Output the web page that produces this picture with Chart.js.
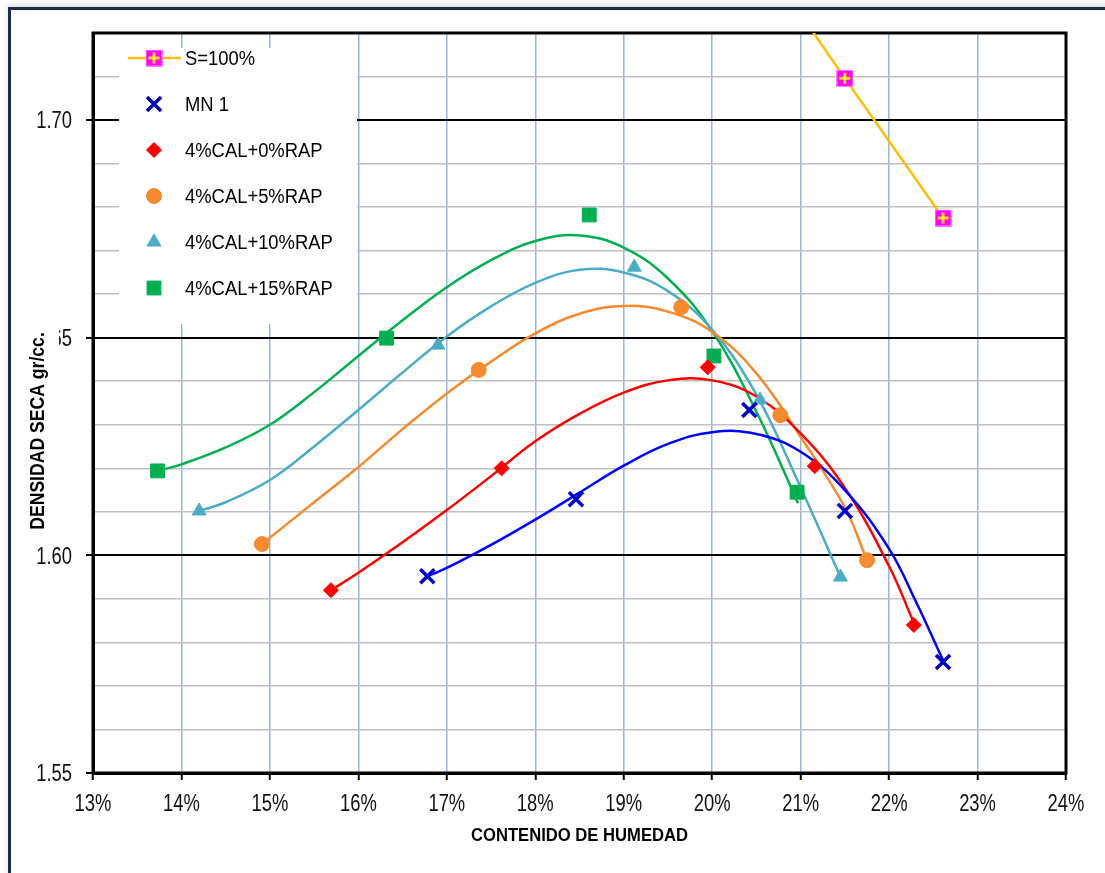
<!DOCTYPE html>
<html>
<head>
<meta charset="utf-8">
<title>Densidad seca vs contenido de humedad</title>
<script src="https://cdn.jsdelivr.net/npm/chart.js@4.4.0/dist/chart.umd.min.js"></script>
<style>
  html, body { margin: 0; padding: 0; background: #fff; overflow: hidden; }
  #wrap { position: relative; width: 1105px; height: 873px; }
  #frame {
    position: absolute; left: 8px; top: 7px; width: 1200px; height: 1000px;
    border: 3px solid #1c2d4c; box-shadow: 0 -3px 6px rgba(0, 0, 0, 0.12);
  }
  #chart { position: absolute; left: 0; top: 0; }
</style>
</head>
<body>
<div id="wrap">
  <div id="frame"></div>
  <canvas id="chart" width="1105" height="873"></canvas>
</div>
<script>
// y labels only on these values, the rest are minor grid lines
const yLabelTicks = [1.55, 1.60, 1.65, 1.70];

// S=100% saturation line (first point lies above the visible range)
const satW = [20.40, 21.50, 22.61];
const satD = [1.742, 1.7096, 1.6775];

// measured points, humedad (%) / densidad (gr/cc)
const mn1W = [16.78, 18.46, 20.42, 21.50, 22.61];
const mn1D = [1.5952, 1.6129, 1.6334, 1.6102, 1.5755];
const cal0W = [15.69, 17.62, 19.95, 21.16, 22.28];
const cal0D = [1.5920, 1.6200, 1.6432, 1.6205, 1.5840];
const cal5W = [14.91, 17.36, 19.65, 20.77, 21.75];
const cal5D = [1.6026, 1.6426, 1.6570, 1.6322, 1.5989];
const cal10W = [14.20, 16.90, 19.12, 20.54, 21.45];
const cal10D = [1.6102, 1.6483, 1.6662, 1.6357, 1.5950];
const cal15W = [13.73, 16.32, 18.61, 20.02, 20.96];
const cal15D = [1.6194, 1.6499, 1.6782, 1.6458, 1.6145];

// trend curves, every half percent
const mn1CurveW = [16.78, 17.0, 17.5, 18.0, 18.5, 19.0, 19.5, 20.0, 20.5, 21.0, 21.5, 22.0, 22.3, 22.61];
const mn1CurveD = [1.5952, 1.5971, 1.6024, 1.6082, 1.6144, 1.6206, 1.6256, 1.6283, 1.6279, 1.6238, 1.6150, 1.6015, 1.5895, 1.5759];
const cal0CurveW = [15.69, 16.0, 16.5, 17.0, 17.5, 18.0, 18.5, 19.0, 19.5, 20.0, 20.5, 21.0, 21.5, 22.0, 22.28];
const cal0CurveD = [1.5920, 1.5960, 1.6030, 1.6104, 1.6182, 1.6262, 1.6325, 1.6374, 1.6402, 1.6402, 1.6365, 1.6280, 1.6155, 1.5975, 1.5845];
const cal5CurveW = [14.91, 15.5, 16.0, 16.5, 17.0, 17.5, 18.0, 18.5, 19.0, 19.5, 20.0, 20.5, 21.0, 21.5, 21.75];
const cal5CurveD = [1.6026, 1.6122, 1.6203, 1.6290, 1.6372, 1.6445, 1.6510, 1.6555, 1.6573, 1.6560, 1.6513, 1.6418, 1.6272, 1.6110, 1.5989];
const cal10CurveW = [14.2, 14.5, 15.0, 15.5, 16.0, 16.5, 17.0, 17.5, 18.0, 18.5, 19.0, 19.5, 20.0, 20.5, 21.0, 21.45];
const cal10CurveD = [1.6102, 1.6122, 1.6173, 1.6250, 1.6334, 1.6420, 1.6503, 1.6572, 1.6626, 1.6656, 1.6650, 1.6607, 1.6518, 1.6369, 1.6156, 1.5950];
const cal15CurveW = [13.73, 14.0, 14.5, 15.0, 15.5, 16.0, 16.5, 17.0, 17.5, 18.0, 18.5, 19.0, 19.5, 20.0, 20.5, 20.97];
const cal15CurveD = [1.6194, 1.6209, 1.6248, 1.6300, 1.6375, 1.6458, 1.6540, 1.6616, 1.6678, 1.6722, 1.6735, 1.6707, 1.6636, 1.6515, 1.6330, 1.6120];

const BLUE = '#0000ff', RED = '#ff0000', ORANGE = '#f58a2f', TEAL = '#4bacc6', GREEN = '#00b050';
const SANS = "'Liberation Sans', Arial, sans-serif";

const pts = (xs, ys) => xs.map((x, i) => ({ x, y: ys[i] }));
const isMajor = v => yLabelTicks.some(t => Math.abs(t - v) < 1e-6);

// the original uses a narrow face, so squeeze the text horizontally
function narrowText(ctx, text, px, py, align, sx) {
  ctx.save();
  ctx.translate(px, py);
  ctx.scale(sx, 1);
  ctx.textAlign = align;
  ctx.fillText(text, 0, 0);
  ctx.restore();
}

// magenta square with yellow plus, as in the Excel marker
function satMarker() {
  const c = document.createElement('canvas');
  c.width = 17; c.height = 17;
  const g = c.getContext('2d');
  g.fillStyle = '#ff00ff';
  g.fillRect(0, 0, 17, 17);
  g.strokeStyle = '#ff80ff';
  g.strokeRect(0.5, 0.5, 16, 16);
  g.strokeStyle = '#ffff00';
  g.lineWidth = 2.5;
  g.beginPath();
  g.moveTo(8.5, 3); g.lineTo(8.5, 14);
  g.moveTo(3, 8.5); g.lineTo(14, 8.5);
  g.stroke();
  return c;
}

const curve = (xs, ys, color) => ({
  data: pts(xs, ys), showLine: true, borderColor: color, borderWidth: 2.5,
  pointRadius: 0, tension: 0.4, order: 2
});

const markers = (label, xs, ys, color, style, radius, extra) => Object.assign({
  label, data: pts(xs, ys), showLine: false, pointStyle: style, pointRadius: radius,
  backgroundColor: color, borderColor: color, borderWidth: 1, order: 1, inLegend: true
}, extra || {});

const datasets = [
  markers('S=100%', satW, satD, '#ff00ff', satMarker(), 8,
    { showLine: true, borderColor: '#ffc000', borderWidth: 2.5, order: 0, legendLine: '#ffc000' }),
  markers('MN 1', mn1W, mn1D, '#0000cc', 'crossRot', 10, { borderWidth: 3.5 }),
  markers('4%CAL+0%RAP', cal0W, cal0D, RED, 'rectRot', 7.5),
  markers('4%CAL+5%RAP', cal5W, cal5D, ORANGE, 'circle', 7.5),
  markers('4%CAL+10%RAP', cal10W, cal10D, TEAL, 'triangle', 8),
  markers('4%CAL+15%RAP', cal15W, cal15D, GREEN, 'rect', 9.8),
  curve(mn1CurveW, mn1CurveD, BLUE),
  curve(cal0CurveW, cal0CurveD, RED),
  curve(cal5CurveW, cal5CurveD, ORANGE),
  curve(cal10CurveW, cal10CurveD, TEAL),
  curve(cal15CurveW, cal15CurveD, GREEN)
];

// black frame around the plot (top and right sides, axes give the others)
const plotFrame = {
  id: 'plotFrame',
  beforeDatasetsDraw(chart) {
    const { ctx, chartArea: a } = chart;
    ctx.save();
    ctx.strokeStyle = '#000';
    ctx.lineWidth = 3;
    ctx.strokeRect(a.left, a.top, a.right - a.left, a.bottom - a.top);
    ctx.restore();
  }
};

// tick labels, taken from the scales
const tickLabels = {
  id: 'tickLabels',
  afterDraw(chart) {
    const { ctx, scales: { x, y }, chartArea: a } = chart;
    ctx.save();
    ctx.font = '23px ' + SANS;
    ctx.fillStyle = '#111';
    ctx.textBaseline = 'alphabetic';
    x.ticks.forEach(t => narrowText(ctx, t.value + '%', x.getPixelForValue(t.value), a.bottom + 38, 'center', 0.8));
    yLabelTicks.forEach(v => narrowText(ctx, v.toFixed(2), a.left - 21, y.getPixelForValue(v) + 8.3, 'right', 0.8));
    ctx.restore();
  }
};

// legend box sitting inside the plot, over the grid
const innerLegend = {
  id: 'innerLegend',
  afterDraw(chart) {
    const { ctx, chartArea: a } = chart;
    ctx.save();
    ctx.fillStyle = '#fff';
    ctx.fillRect(a.left + 26, a.top + 15, 238, 276);
    ctx.font = '20px ' + SANS;
    ctx.textBaseline = 'middle';
    let y = a.top + 25;
    chart.data.datasets.filter(d => d.inLegend).forEach(d => {
      if (d.legendLine) {
        ctx.strokeStyle = d.legendLine;
        ctx.lineWidth = 2.5;
        ctx.beginPath();
        ctx.moveTo(a.left + 35, y);
        ctx.lineTo(a.left + 88, y);
        ctx.stroke();
      }
      ctx.fillStyle = d.backgroundColor;
      ctx.strokeStyle = d.legendLine ? d.backgroundColor : d.borderColor;
      ctx.lineWidth = d.borderWidth;
      Chart.helpers.drawPoint(ctx, { pointStyle: d.pointStyle, radius: d.pointRadius, borderWidth: d.borderWidth, rotation: 0 }, a.left + 61, y);
      ctx.fillStyle = '#000';
      narrowText(ctx, d.label, a.left + 92, y + 1, 'left', 0.92);
      y += 46;
    });
    ctx.restore();
  }
};

// axis titles; the y title has its own white patch like the original
const axisTitles = {
  id: 'axisTitles',
  afterDraw(chart) {
    const { ctx, chartArea: a } = chart;
    ctx.save();
    ctx.fillStyle = '#000';
    ctx.textBaseline = 'middle';
    ctx.font = 'bold 19px ' + SANS;
    narrowText(ctx, 'CONTENIDO DE HUMEDAD', (a.left + a.right) / 2, 836, 'center', 0.875);
    ctx.translate(38, 431);
    ctx.rotate(-Math.PI / 2);
    ctx.fillStyle = '#fff';
    ctx.fillRect(-104, -13, 208, 34);
    ctx.fillStyle = '#000';
    ctx.font = 'bold 20px ' + SANS;
    narrowText(ctx, 'DENSIDAD SECA gr/cc.', 0, 0, 'center', 0.88);
    ctx.restore();
  }
};

new Chart(document.getElementById('chart'), {
  type: 'scatter',
  data: { datasets },
  plugins: [plotFrame, tickLabels, innerLegend, axisTitles],
  options: {
    responsive: false,
    devicePixelRatio: 1,
    animation: false,
    layout: { padding: { top: 33, right: 39, left: 0, bottom: 0 } },
    plugins: { legend: { display: false }, tooltip: { enabled: false } },
    scales: {
      x: {
        type: 'linear', min: 13, max: 24,
        afterFit: s => { s.height = 100; },
        border: { color: '#000', width: 3 },
        grid: { color: '#98b6d8', lineWidth: 1.5, tickColor: '#000', tickLength: 7, tickWidth: 2 },
        ticks: { stepSize: 1, autoSkip: false, display: false }
      },
      y: {
        type: 'linear', min: 1.55, max: 1.72,
        afterFit: s => { s.width = 93; },
        border: { color: '#000', width: 3 },
        grid: {
          color: c => isMajor(c.tick.value) ? '#000' : '#c0c0c0',
          lineWidth: c => isMajor(c.tick.value) ? 2 : 1.5,
          tickColor: c => isMajor(c.tick.value) ? '#000' : 'rgba(0,0,0,0)',
          tickLength: 7, tickWidth: 2
        },
        ticks: { stepSize: 0.01, autoSkip: false, display: false }
      }
    }
  }
});
</script>
</body>
</html>
